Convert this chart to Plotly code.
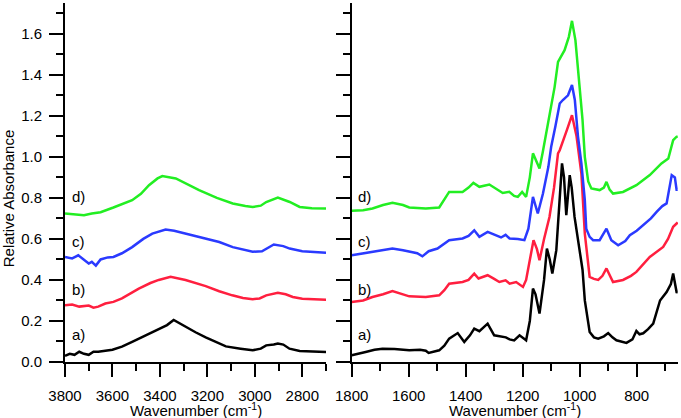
import plotly.graph_objects as go
from plotly.subplots import make_subplots

# ---- left panel (O-H / C-H region) ----
wn_a_hi = [3800, 3780, 3760, 3740, 3720, 3700, 3680, 3660, 3600, 3560, 3517, 3460, 3405, 3370,
           3342, 3320, 3292, 3250, 3207, 3160, 3122, 3060, 3009, 2975, 2952, 2920, 2903, 2880,
           2854, 2811, 2760, 2700]
abs_a_hi = [0.03, 0.04, 0.035, 0.05, 0.04, 0.035, 0.05, 0.05, 0.06, 0.075, 0.098, 0.13, 0.164, 0.18,
            0.205, 0.19, 0.17, 0.145, 0.12, 0.095, 0.076, 0.065, 0.057, 0.065, 0.081, 0.085, 0.09, 0.085,
            0.065, 0.054, 0.052, 0.049]

wn_b_hi = [3800, 3770, 3740, 3700, 3680, 3660, 3630, 3596, 3560, 3489, 3440, 3405, 3355, 3320,
           3292, 3207, 3150, 3095, 3050, 3009, 2980, 2952, 2903, 2870, 2840, 2800, 2750, 2700]
abs_b_hi = [0.277, 0.28, 0.27, 0.275, 0.265, 0.27, 0.285, 0.293, 0.31, 0.358, 0.385, 0.40, 0.415, 0.405,
            0.40, 0.37, 0.345, 0.325, 0.312, 0.306, 0.31, 0.325, 0.338, 0.33, 0.317, 0.308, 0.305, 0.304]

wn_c_hi = [3800, 3770, 3744, 3720, 3700, 3687, 3670, 3650, 3620, 3596, 3560, 3517, 3470, 3432,
           3376, 3340, 3292, 3207, 3150, 3093, 3040, 3009, 2970, 2952, 2920, 2880, 2853, 2800,
           2750, 2700]
abs_c_hi = [0.512, 0.505, 0.52, 0.50, 0.48, 0.488, 0.47, 0.50, 0.51, 0.512, 0.53, 0.56, 0.60, 0.626,
            0.646, 0.64, 0.626, 0.605, 0.585, 0.56, 0.545, 0.537, 0.54, 0.553, 0.573, 0.565, 0.553, 0.54,
            0.535, 0.532]

wn_d_hi = [3800, 3760, 3720, 3687, 3650, 3596, 3517, 3480, 3446, 3410, 3390, 3333, 3290, 3235,
           3160, 3093, 3040, 3009, 2975, 2952, 2903, 2870, 2853, 2811, 2760, 2700]
abs_d_hi = [0.724, 0.72, 0.715, 0.724, 0.73, 0.753, 0.789, 0.82, 0.862, 0.895, 0.906, 0.895, 0.87, 0.838,
            0.80, 0.773, 0.76, 0.756, 0.762, 0.78, 0.802, 0.79, 0.78, 0.756, 0.75, 0.748]

# ---- right panel (fingerprint region) ----
wn_a_lo = [1800, 1775, 1751, 1720, 1692, 1650, 1598, 1560, 1540, 1530, 1493, 1475, 1458, 1428, 1405,
           1385, 1370, 1352, 1335, 1323, 1300, 1280, 1259, 1246, 1230, 1211, 1188, 1175, 1164, 1155,
           1141, 1125, 1115, 1105, 1096, 1082, 1070, 1062, 1055, 1047, 1035, 1028, 1018, 1000, 990,
           982, 965, 950, 935, 915, 900, 885, 871, 836, 815, 801, 790, 777, 760, 742, 730, 718, 695,
           680, 672, 665, 660, 656]
abs_a_lo = [0.033, 0.04, 0.049, 0.06, 0.065, 0.063, 0.057, 0.06, 0.055, 0.044, 0.057, 0.08, 0.114, 0.141, 0.098,
            0.13, 0.163, 0.15, 0.17, 0.187, 0.13, 0.125, 0.12, 0.11, 0.105, 0.13, 0.106, 0.2, 0.358, 0.33,
            0.236, 0.4, 0.553, 0.5, 0.431, 0.545, 0.8, 0.968, 0.9, 0.716, 0.911, 0.85, 0.707, 0.545, 0.45,
            0.30, 0.146, 0.12, 0.114, 0.125, 0.141, 0.12, 0.106, 0.093, 0.11, 0.151, 0.135, 0.14, 0.16, 0.187, 0.24, 0.30, 0.341,
            0.38, 0.431, 0.38, 0.341, 0.34]

wn_b_lo = [1800, 1760, 1727, 1690, 1657, 1630, 1598, 1560, 1540, 1493, 1475, 1458, 1411, 1390, 1370,
           1355, 1323, 1300, 1282, 1260, 1246, 1223, 1199, 1188, 1175, 1162, 1150, 1141, 1125, 1106,
           1090, 1076, 1070, 1059, 1045, 1027, 1011, 994, 982, 965, 950, 935, 920, 906, 895, 883, 848,
           820, 801, 754, 707, 690, 672, 660, 656]
abs_b_lo = [0.293, 0.30, 0.317, 0.33, 0.346, 0.335, 0.32, 0.318, 0.317, 0.325, 0.35, 0.382, 0.39, 0.40, 0.431,
            0.407, 0.423, 0.405, 0.39, 0.398, 0.382, 0.39, 0.366, 0.40, 0.5, 0.594, 0.55, 0.496, 0.6, 0.707,
            0.85, 1.017, 1.032, 1.08, 1.13, 1.203, 1.10, 0.919, 0.626, 0.415, 0.405, 0.40, 0.42, 0.456, 0.42, 0.39, 0.40,
            0.42, 0.439, 0.512, 0.561, 0.60, 0.659, 0.675, 0.68]

wn_c_lo = [1800, 1760, 1727, 1690, 1657, 1620, 1598, 1570, 1552, 1530, 1499, 1475, 1458, 1411, 1390,
           1370, 1352, 1323, 1300, 1276, 1260, 1246, 1217, 1194, 1180, 1164, 1147, 1129, 1110, 1100,
           1085, 1070, 1059, 1041, 1027, 1017, 1006, 994, 982, 977, 965, 953, 930, 906, 889, 865, 840,
           824, 800, 777, 750, 730, 710, 695, 685, 677, 666, 660, 656]
abs_c_lo = [0.52, 0.53, 0.537, 0.545, 0.553, 0.545, 0.537, 0.53, 0.515, 0.54, 0.553, 0.575, 0.594, 0.602, 0.615,
            0.642, 0.61, 0.634, 0.62, 0.607, 0.62, 0.602, 0.60, 0.594, 0.65, 0.805, 0.724, 0.82, 0.95, 1.049,
            1.15, 1.26, 1.277, 1.30, 1.35, 1.277, 1.10, 0.968, 0.789, 0.65, 0.61, 0.594, 0.594, 0.65, 0.594, 0.569, 0.59,
            0.618, 0.64, 0.667, 0.70, 0.732, 0.76, 0.773, 0.85, 0.911, 0.90, 0.84, 0.84]

wn_d_lo = [1800, 1760, 1727, 1690, 1657, 1620, 1598, 1560, 1540, 1493, 1475, 1458, 1411, 1390, 1373,
           1352, 1317, 1290, 1270, 1247, 1230, 1217, 1202, 1188, 1175, 1164, 1152, 1141, 1130, 1117,
           1100, 1088, 1076, 1053, 1038, 1027, 1015, 1000, 990, 982, 970, 959, 930, 915, 906, 895, 883,
           848, 801, 754, 713, 689, 680, 672, 660, 656]
abs_d_lo = [0.737, 0.74, 0.748, 0.765, 0.776, 0.765, 0.753, 0.748, 0.748, 0.753, 0.79, 0.829, 0.829, 0.85, 0.873,
            0.854, 0.865, 0.84, 0.824, 0.83, 0.81, 0.805, 0.829, 0.805, 0.9, 1.017, 0.98, 0.943, 1.02, 1.114,
            1.244, 1.34, 1.463, 1.52, 1.585, 1.663, 1.569, 1.358, 1.18, 1.0, 0.88, 0.846, 0.838, 0.85, 0.878, 0.84, 0.821,
            0.829, 0.862, 0.911, 0.968, 0.992, 1.04, 1.081, 1.098, 1.10]

labels = ["a)", "b)", "c)", "d)"]
label_y = [0.135, 0.355, 0.585, 0.805]
colors = ["#000000", "#ff1f3f", "#2a3aff", "#22ee22"]

hi_series = [(wn_a_hi, abs_a_hi), (wn_b_hi, abs_b_hi), (wn_c_hi, abs_c_hi), (wn_d_hi, abs_d_hi)]
lo_series = [(wn_a_lo, abs_a_lo), (wn_b_lo, abs_b_lo), (wn_c_lo, abs_c_lo), (wn_d_lo, abs_d_lo)]

FONT = "Arial, Liberation Sans, sans-serif"

fig = make_subplots(rows=1, cols=2, shared_yaxes=False, horizontal_spacing=0.042,
                    column_widths=[0.4258, 1 - 0.4677])

for (wx, wy), c in zip(hi_series, colors):
    fig.add_trace(go.Scatter(x=wx, y=wy, mode="lines", line=dict(color=c, width=2.5),
                             showlegend=False, hoverinfo="skip"), row=1, col=1)
for (wx, wy), c in zip(lo_series, colors):
    fig.add_trace(go.Scatter(x=wx, y=wy, mode="lines", line=dict(color=c, width=2.5),
                             showlegend=False, hoverinfo="skip"), row=1, col=2)

axis_common = dict(showline=True, linecolor="black", linewidth=2, showgrid=False, zeroline=False,
                   ticks="outside", tickwidth=2, tickcolor="black",
                   tickfont=dict(family=FONT, size=15, color="black"))
minor_ticks_x = dict(dtick=100, ticklen=7, ticks="outside", tickwidth=2, tickcolor="black")
minor_ticks_y = dict(dtick=0.1, ticklen=7, ticks="outside", tickwidth=2, tickcolor="black")

fig.update_xaxes(range=[3800, 2700], dtick=200, tick0=3800, ticklen=13, ticklabelstandoff=6,
                 minor=minor_ticks_x, domain=[0, 0.4258], **axis_common, row=1, col=1)
fig.update_xaxes(range=[1800, 655], dtick=200, tick0=1800, ticklen=13, ticklabelstandoff=6,
                 minor=minor_ticks_x, domain=[0.4677, 1], **axis_common, row=1, col=2)
fig.update_yaxes(range=[0, 1.75], dtick=0.2, tick0=0, tickformat=".1f", ticklen=14, ticklabelstandoff=4,
                 minor=minor_ticks_y, **axis_common, row=1, col=1)
fig.update_yaxes(range=[0, 1.75], dtick=0.2, tick0=0, ticklen=14, showticklabels=False,
                 minor=minor_ticks_y, **axis_common, row=1, col=2)

annotations = []
for lab, ly in zip(labels, label_y):
    annotations.append(dict(x=3780, y=ly, xref="x", yref="y", text=lab, showarrow=False,
                            xanchor="left", yanchor="middle", font=dict(family=FONT, size=15, color="black")))
    annotations.append(dict(x=1786, y=ly, xref="x2", yref="y2", text=lab, showarrow=False,
                            xanchor="left", yanchor="middle", font=dict(family=FONT, size=15, color="black")))

for cx in [0.4258 / 2, (0.4677 + 1) / 2]:
    annotations.append(dict(x=cx, y=-0.133, xref="paper", yref="paper", text="Wavenumber (cm<sup>-1</sup>)",
                            showarrow=False, xanchor="center", yanchor="middle",
                            font=dict(family=FONT, size=15, color="black")))
annotations.append(dict(x=-0.093, y=0.456, xref="paper", yref="paper", text="Relative Absorbance",
                        showarrow=False, textangle=-90, xanchor="center", yanchor="middle",
                        font=dict(family=FONT, size=15, color="black")))

fig.update_layout(width=681, height=418, margin=dict(l=65, r=3, t=3, b=56),
                  plot_bgcolor="white", paper_bgcolor="white", annotations=annotations,
                  font=dict(family=FONT, size=15, color="black"))

# drop the browser's default body margin so the figure sits at the page corner
fig.write_html("out.html", config={"displayModeBar": False},
               post_script="document.body.style.margin='0px';")
